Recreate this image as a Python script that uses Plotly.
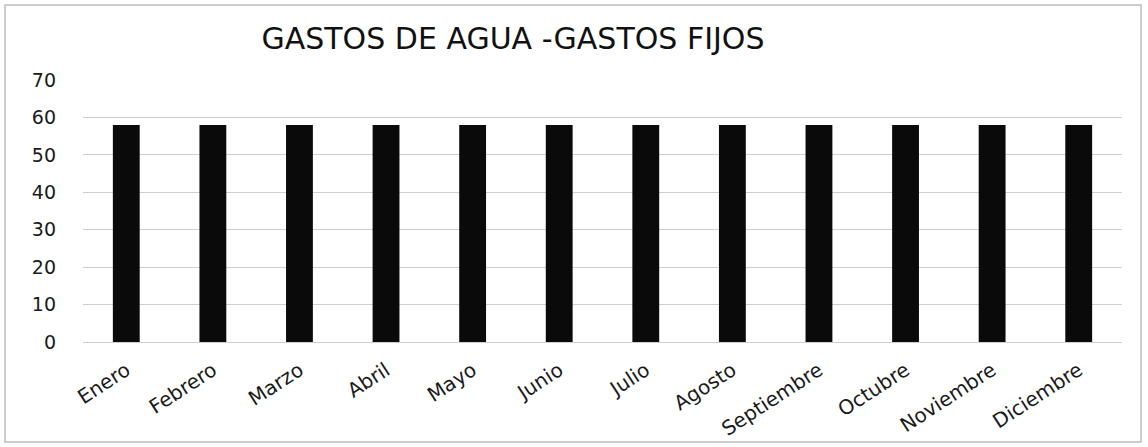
import plotly.graph_objects as go

meses = ["Enero", "Febrero", "Marzo", "Abril", "Mayo", "Junio", "Julio",
         "Agosto", "Septiembre", "Octubre", "Noviembre", "Diciembre"]
gastos = [58, 58, 58, 58, 58, 58, 58, 58, 58, 58, 58, 58]
y_ticks = [0, 10, 20, 30, 40, 50, 60, 70]

fig = go.Figure(go.Bar(x=meses, y=gastos, marker=dict(color="#0a0a0a", line=dict(width=0))))

W, H = 1148, 447
fig.update_layout(
    width=W, height=H,
    margin=dict(l=83, r=26, t=80, b=105),
    paper_bgcolor="white", plot_bgcolor="white",
    bargap=0.69,
    showlegend=False,
    font=dict(family="DejaVu Sans, Verdana, sans-serif", color="#1a1a1a"),
    title=dict(text="GASTOS DE AGUA -GASTOS FIJOS", xref="container", x=513 / W,
               xanchor="center", yref="container", y=1 - 38 / H, yanchor="middle",
               font=dict(size=30, color="#111")),
    shapes=[dict(type="rect", xref="paper", yref="paper",
                 x0=(5 - 83) / 1039, x1=(1141 - 83) / 1039,
                 y0=(342 - 442) / 262, y1=(342 - 5) / 262,
                 line=dict(color="#bdbdbd", width=1.5))],
)
fig.update_yaxes(range=[0, 70], tickvals=y_ticks, showgrid=True, gridcolor="#cfcfcf",
                 gridwidth=1, zeroline=False, showline=False, automargin=False,
                 tickfont=dict(size=19, color="#1a1a1a"), ticks="", ticklabelstandoff=26)
fig.update_xaxes(tickangle=-33, tickfont=dict(size=20, color="#1a1a1a"), showline=True,
                 linecolor="#cfcfcf", ticks="", ticklabelstandoff=8, automargin=False)

fig.write_html("out.html", config={"displayModeBar": False},
               post_script="document.body.style.margin='0';")
